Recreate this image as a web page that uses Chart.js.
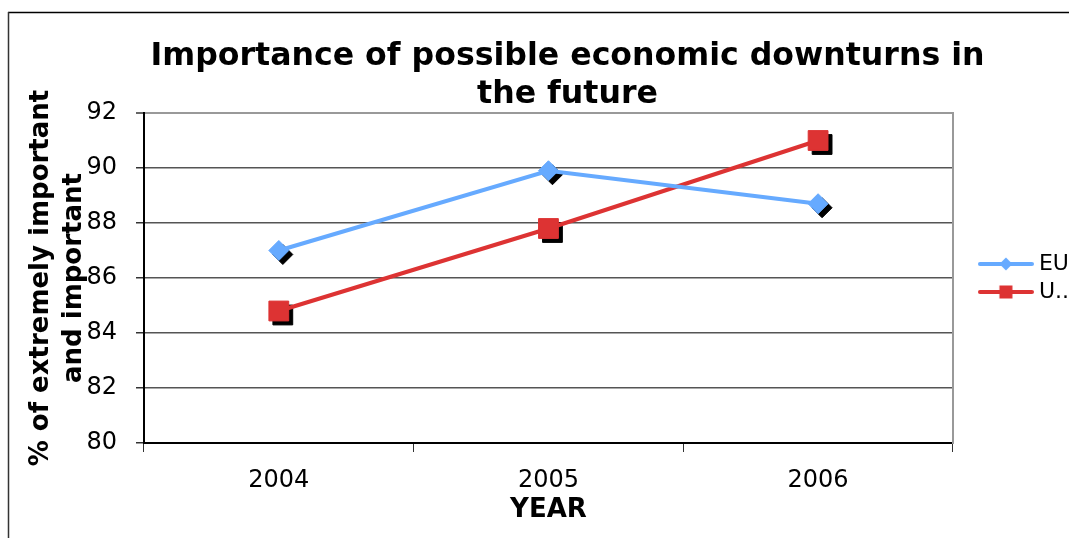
<!DOCTYPE html>
<html>
<head>
<meta charset="utf-8">
<script src="https://cdn.jsdelivr.net/npm/chart.js@4.4.1/dist/chart.umd.min.js"></script>
<style>
html,body{margin:0;padding:0;background:#fff;}
#wrap{width:1069px;height:538px;position:relative;}
</style>
</head>
<body>
<div id="wrap"><canvas id="c" width="1069" height="538"></canvas></div>
<script>
// ---- data ----
const categories = ['2004', '2005', '2006'];
const euValues = [87.0, 89.9, 88.7];
const usValues = [84.8, 87.8, 91.0];
const seriesLabels = ['EU', 'U..'];
const yTickValues = [80, 82, 84, 86, 88, 90, 92];
const chartTitle = ['Importance of possible economic downturns in', 'the future'];
const yAxisTitle = ['% of extremely important', 'and important'];
const xAxisTitle = 'YEAR';

// ---- styles ----
const FONT = 'DejaVu Sans';
const BLUE = '#66AAFF';
const RED = '#DD3333';

function makeIcon(color, style) {
  const c = document.createElement('canvas');
  c.width = 56; c.height = 16;
  const g = c.getContext('2d');
  g.strokeStyle = color; g.lineWidth = 4; g.lineCap = 'round';
  g.beginPath(); g.moveTo(2, 8); g.lineTo(54, 8); g.stroke();
  g.fillStyle = color;
  if (style === 'diamond') {
    g.beginPath(); g.moveTo(28, 1.5); g.lineTo(34.5, 8); g.lineTo(28, 14.5); g.lineTo(21.5, 8); g.closePath(); g.fill();
  } else {
    g.fillRect(21.5, 1.5, 13, 13);
  }
  return c;
}
const legendIcons = [makeIcon(BLUE, 'diamond'), makeIcon(RED, 'square')];

const framePlugin = {
  id: 'frame',
  beforeDraw(chart) {
    const ctx = chart.ctx;
    ctx.save();
    ctx.fillStyle = '#fff';
    ctx.fillRect(0, 0, chart.width, chart.height);
    ctx.strokeStyle = '#000'; ctx.lineWidth = 1.5;
    ctx.beginPath(); ctx.moveTo(8, 12.5); ctx.lineTo(chart.width, 12.5); ctx.stroke();
    ctx.strokeStyle = '#333'; ctx.lineWidth = 1.5;
    ctx.beginPath(); ctx.moveTo(8.5, 12); ctx.lineTo(8.5, chart.height); ctx.stroke();
    ctx.restore();
  }
};

const shadowPlugin = {
  id: 'shadowShift',
  beforeDatasetDraw(chart, args) {
    if (chart.data.datasets[args.index].isShadow) { chart.ctx.save(); chart.ctx.translate(4, 4); }
  },
  afterDatasetDraw(chart, args) {
    if (chart.data.datasets[args.index].isShadow) chart.ctx.restore();
  }
};

new Chart(document.getElementById('c'), {
  type: 'line',
  data: {
    labels: categories,
    datasets: [
      { label: seriesLabels[0], data: euValues, borderColor: BLUE, backgroundColor: BLUE, borderWidth: 4,
        pointStyle: 'rectRot', pointRadius: 10, pointHoverRadius: 10, pointBorderWidth: 1, pointBorderColor: BLUE, pointBackgroundColor: BLUE, order: 1 },
      { label: seriesLabels[1], data: usValues, borderColor: RED, backgroundColor: RED, borderWidth: 4,
        pointStyle: 'rect', pointRadius: 14, pointHoverRadius: 14, pointBorderWidth: 1, pointBorderColor: RED, pointBackgroundColor: RED, order: 1 },
      { label: 'shadow-eu', isShadow: true, data: euValues, showLine: false, pointStyle: 'rectRot', pointRadius: 10,
        pointBackgroundColor: '#000', pointBorderColor: '#000', pointBorderWidth: 1, order: 2 },
      { label: 'shadow-us', isShadow: true, data: usValues, showLine: false, pointStyle: 'rect', pointRadius: 14,
        pointBackgroundColor: '#000', pointBorderColor: '#000', pointBorderWidth: 1, order: 2 }
    ]
  },
  options: {
    responsive: false,
    animation: false,
    devicePixelRatio: 1,
    layout: { padding: { left: 56, top: 0, right: -10, bottom: 0 } },
    plugins: {
      tooltip: { enabled: false },
      title: {
        display: true, text: chartTitle, color: '#000', fullSize: true,
        font: { family: FONT, size: 31.6, weight: 'bold', lineHeight: 1.2025 },
        padding: { top: 38, bottom: -1 }
      },
      legend: {
        position: 'right', align: 'center', fullSize: false,
        labels: {
          usePointStyle: true, pointStyleWidth: 44, padding: 6, color: '#000',
          font: { family: FONT, size: 22 },
          filter: (item, data) => !data.datasets[item.datasetIndex].isShadow,
          generateLabels: (chart) => {
            const items = Chart.defaults.plugins.legend.labels.generateLabels(chart);
            return items.map(it => Object.assign(it, { pointStyle: legendIcons[it.datasetIndex] || it.pointStyle }));
          }
        }
      }
    },
    scales: {
      x: {
        type: 'category', offset: true,
        grid: { display: true, drawOnChartArea: false, offset: true, tickLength: 9, color: '#333', lineWidth: 1 },
        border: { display: true, color: '#000', width: 2 },
        ticks: { color: '#000', font: { family: FONT, size: 24 }, padding: 14, maxRotation: 0 },
        title: { display: true, text: xAxisTitle, color: '#000', font: { family: FONT, size: 26, weight: 'bold' }, padding: { top: 0, bottom: 12 } },
        afterFit(s) { s.height = 95; }
      },
      y: {
        min: 80, max: 92,
        afterBuildTicks(s) { s.ticks = yTickValues.map(v => ({ value: v })); },
        grid: {
          color: (c) => (c.tick && c.tick.value === 92) ? '#999' : '#555',
          lineWidth: (c) => (c.tick && c.tick.value === 92) ? 2 : 1.5,
          tickLength: 8, tickColor: '#333', tickWidth: 1.5
        },
        border: { display: true, color: '#000', width: 2 },
        ticks: { color: '#000', font: { family: FONT, size: 24 }, padding: 19 },
        title: { display: true, text: yAxisTitle, color: '#000', font: { family: FONT, size: 26, weight: 'bold', lineHeight: 1.27 }, padding: { top: -31, bottom: 0 } },
        afterFit(s) { s.width = 88; }
      },
      y2: {
        position: 'right', display: true,
        grid: { display: false },
        ticks: { display: false },
        border: { display: true, color: '#999', width: 2 },
        afterFit(s) { s.width = 25; }
      }
    }
  },
  plugins: [framePlugin, shadowPlugin]
});
</script>
</body>
</html>
